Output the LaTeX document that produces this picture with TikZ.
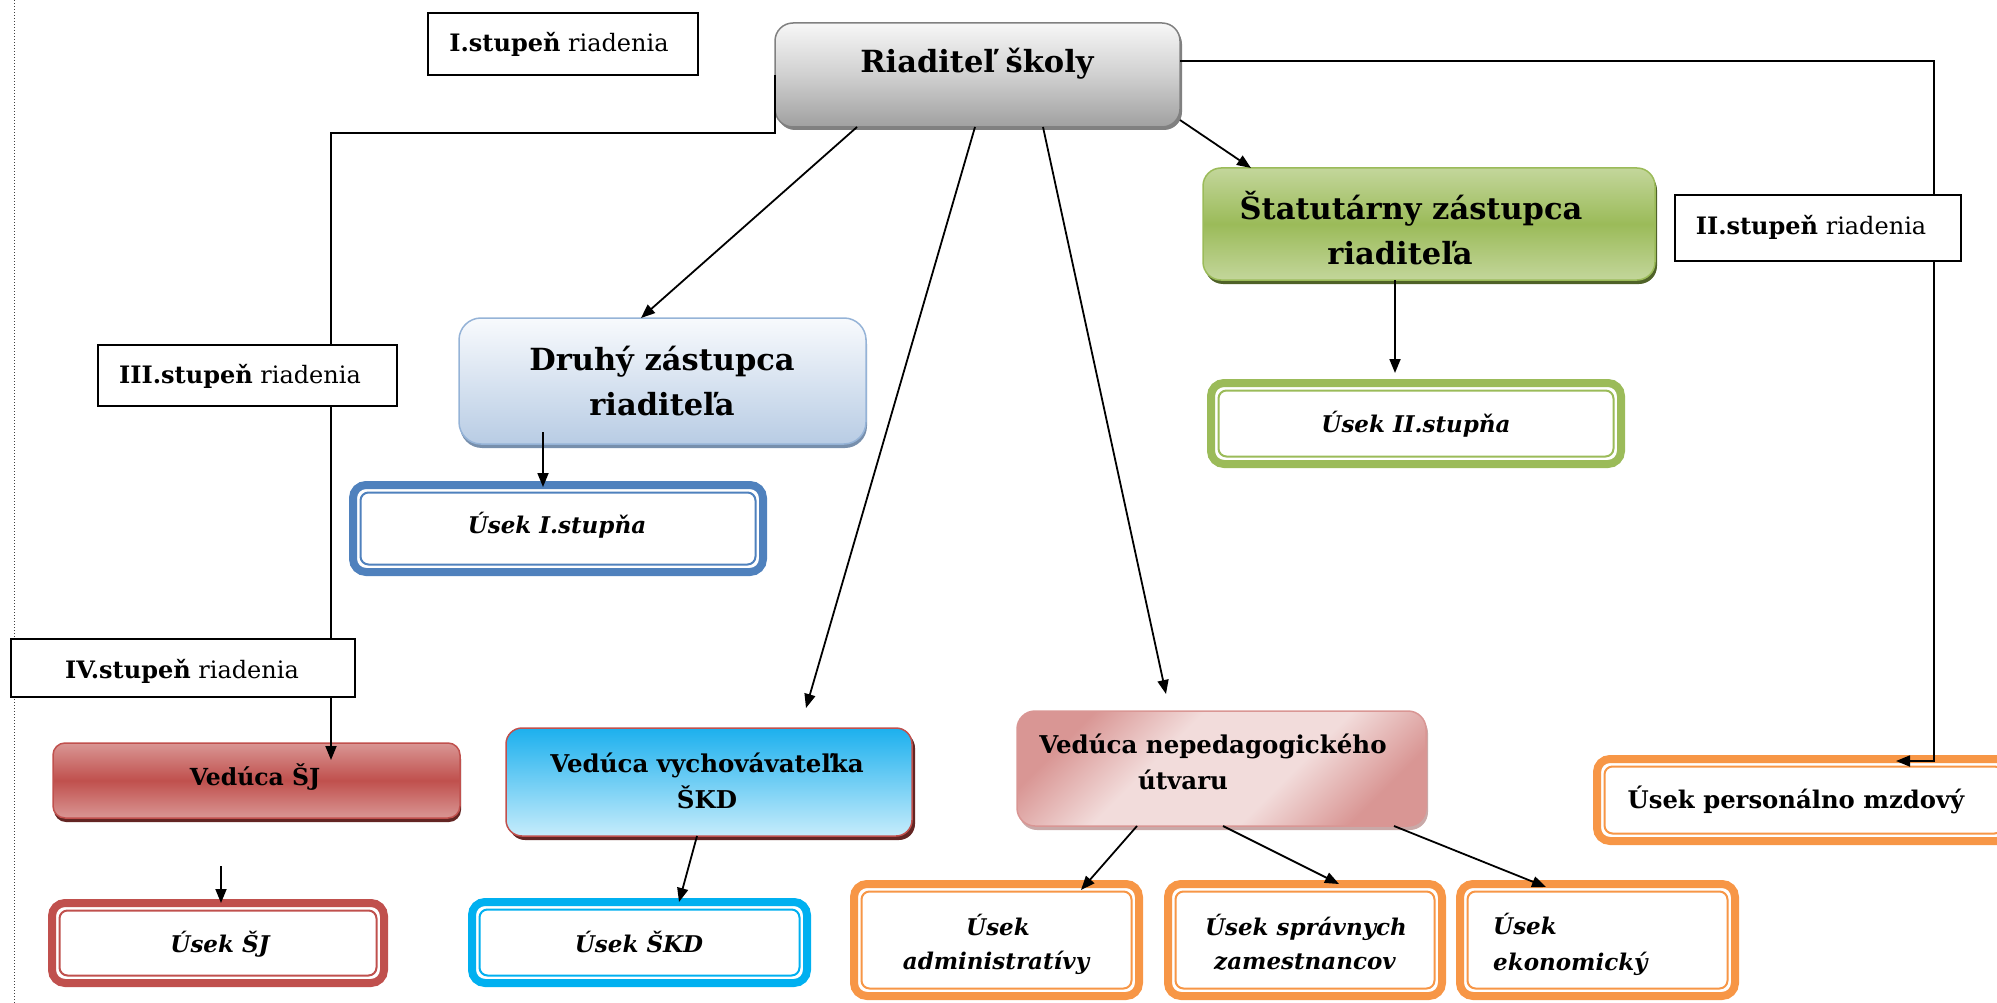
\documentclass[tikz,border=0pt]{standalone}
\usepackage{fontspec}
\setmainfont{DejaVu Serif}
\usetikzlibrary{arrows.meta,shadows}
\definecolor{uGreen}{HTML}{9BBB59}
\definecolor{uGreenL}{HTML}{C3D69B}
\definecolor{uGreenD}{HTML}{4F6228}
\definecolor{uBlue}{HTML}{4F81BD}
\definecolor{uBlueL}{HTML}{F8FAFD}
\definecolor{uBlueM}{HTML}{B8CCE4}
\definecolor{uBlueB}{HTML}{95B3D7}
\definecolor{uRed}{HTML}{C0504D}
\definecolor{uRedL}{HTML}{D99694}
\definecolor{uRedD}{HTML}{632523}
\definecolor{uCyan}{HTML}{00B0F0}
\definecolor{uCyanT}{HTML}{1CB0EE}
\definecolor{uCyanL}{HTML}{C6ECFB}
\definecolor{uOrange}{HTML}{F79646}
\definecolor{uPinkL}{HTML}{F2DCDB}
\definecolor{uPinkS}{HTML}{C9A9A8}
\definecolor{gTop}{HTML}{F7F7F7}
\definecolor{gMid}{HTML}{D0D0D0}
\definecolor{gBot}{HTML}{A0A0A0}
\definecolor{gBord}{HTML}{808080}
\pgfdeclareverticalshading{nepshade}{100bp}{color(0bp)=(uRedL); color(25bp)=(uRedL); color(40bp)=(uPinkL); color(60bp)=(uPinkL); color(75bp)=(uRedL); color(100bp)=(uRedL)}
\begin{document}
\begin{tikzpicture}[x=1pt,y=-1pt,
  conn/.style={line width=1.8pt,-{Triangle[length=14pt,width=11pt]}},
  lvl/.style={draw=black,line width=2pt,fill=white,inner sep=0pt,outer sep=0pt},
  usek/.style={draw=#1,line width=8pt,fill=white,rounded corners=13pt,inner sep=0pt,outer sep=0pt},
  head/.style={rounded corners=18pt,inner sep=0pt,outer sep=0pt,line width=1.5pt},
  bigt/.style={font=\fontsize{30.5}{36}\selectfont\bfseries,inner sep=0pt,anchor=base},
  midt/.style={font=\fontsize{24.5}{29}\selectfont\bfseries,inner sep=0pt,anchor=base},
  itt/.style={font=\fontsize{23}{28}\selectfont\bfseries\itshape,inner sep=0pt,anchor=base},
  labt/.style={font=\fontsize{24}{28}\selectfont,inner sep=0pt,anchor=base}]
\useasboundingbox (0,0) rectangle (1997,1003);

% left dotted margin line
\draw[dotted,line width=1pt,black!75] (14,0) -- (14,1003);

% head boxes
\node[head,draw=gBord,top color=gTop,bottom color=gBot,middle color=gMid,
  drop shadow={shadow xshift=2pt,shadow yshift=-3pt,fill=gBord,opacity=1},
  minimum width=405pt,minimum height=104pt] (root) at (977.5,75) {};
\node[head,draw=uGreen,top color=uGreenL,bottom color=uGreenL,middle color=uGreen,
  drop shadow={shadow xshift=2pt,shadow yshift=-4pt,fill=uGreenD,opacity=1},
  minimum width=452pt,minimum height=112pt] (stat) at (1429,224) {};
\node[head,rounded corners=22pt,draw=uBlueB,top color=uBlueL,bottom color=uBlueM,
  drop shadow={shadow xshift=1pt,shadow yshift=-4pt,fill=uBlueB!80!black,opacity=1},
  minimum width=407pt,minimum height=126pt] (druhy) at (662.5,381) {};
\node[head,rounded corners=12pt,draw=uRed,top color=uRedL,bottom color=uRedL,middle color=uRed,
  drop shadow={shadow xshift=1pt,shadow yshift=-4pt,fill=uRedD,opacity=1},
  minimum width=407pt,minimum height=75pt] (sj) at (256.5,780.5) {};
\node[head,rounded corners=16pt,draw=uRed,top color=uCyanT,bottom color=uCyanL,
  drop shadow={shadow xshift=3pt,shadow yshift=-4pt,fill=uRedD,opacity=1},
  minimum width=406pt,minimum height=108pt] (skd) at (709,782) {};
\node[head,draw=uRedL,shading=nepshade,shading angle=45,
  drop shadow={shadow xshift=2pt,shadow yshift=-4pt,fill=uPinkS,opacity=1},
  minimum width=409pt,minimum height=115pt] (nep) at (1221.5,768.5) {};

% usek boxes
\node[usek=uBlue,minimum width=410pt,minimum height=87pt] (usek1) at (558,528.5) {};
\node[usek=uGreen,minimum width=410pt,minimum height=81pt] (usek2) at (1416,423.5) {};
\node[usek=uRed,minimum width=332pt,minimum height=80pt] (usekSJ) at (218,943) {};
\node[usek=uCyan,minimum width=335pt,minimum height=81pt] (usekSKD) at (639.5,942.5) {};
\node[usek=uOrange,minimum width=285pt,minimum height=112pt] (adm) at (996.5,940) {};
\node[usek=uOrange,minimum width=274pt,minimum height=112pt] (sprav) at (1305,940) {};
\node[usek=uOrange,minimum width=275pt,minimum height=112pt] (ekon) at (1597.5,940) {};
\node[usek=uOrange,minimum width=413pt,minimum height=82pt] (pers) at (1803.5,800) {};
\foreach \n/\c in {usek1/uBlue,usek2/uGreen,usekSJ/uRed,usekSKD/uCyan,adm/uOrange,sprav/uOrange,ekon/uOrange,pers/uOrange}
  \draw[\c,line width=2pt,rounded corners=8pt]
    ([shift={(7.5pt,-7.5pt)}]\n.north west) rectangle ([shift={(-7.5pt,7.5pt)}]\n.south east);

% connectors
\coordinate (jL) at (331,133);
\coordinate (sjIn) at (331,760);
\coordinate (jR) at (1934,761);
\coordinate (sjOut) at (221,866);
\draw[conn] (root.west) |- (jL) -- (sjIn);
\draw[conn] ([yshift=14pt]root.east) -| (jR) -- ([xshift=299pt,yshift=-2pt]pers.north west);
\draw[conn] ([yshift=-45pt]root.east) -- ([xshift=48pt]stat.north west);
\draw[conn] ([xshift=-120.5pt]root.south) -- ([xshift=-21.5pt]druhy.north);
\draw[conn] ([xshift=-2.5pt]root.south) -- ([xshift=97pt,yshift=20pt]skd.north);
\draw[conn] ([xshift=65.5pt]root.south) -- ([xshift=-55.5pt,yshift=17pt]nep.north);
\draw[conn] ([xshift=-119.5pt,yshift=12pt]druhy.south) -- ([xshift=-15pt,yshift=-2pt]usek1.north);
\draw[conn] ([xshift=-34pt]stat.south) -- ([xshift=-21pt,yshift=10pt]usek2.north);
\draw[conn] ([xshift=-12pt]skd.south) -- ([xshift=39.5pt]usekSKD.north);
\draw[conn] ([xshift=-84.5pt]nep.south) -- ([xshift=84.5pt,yshift=-6pt]adm.north);
\draw[conn] ([xshift=1.5pt]nep.south) -- ([xshift=34pt]sprav.north);
\draw[conn] ([xshift=172.5pt]nep.south) -- ([xshift=-51.5pt,yshift=-3pt]ekon.north);
\draw[conn] (sjOut) -- ([xshift=3pt]usekSJ.north);

% level labels
\node[lvl,minimum width=270pt,minimum height=62pt] (lvl1) at (563,44) {};
\node[lvl,minimum width=286pt,minimum height=66pt] (lvl2) at (1818,228) {};
\node[lvl,minimum width=299pt,minimum height=61pt] (lvl3) at (247.5,375.5) {};
\node[lvl,minimum width=344pt,minimum height=58pt] (lvl4) at (183,668) {};
\node[labt] (lvl1T) at (559,52) {\textbf{I.stupeň} riadenia};
\node[labt] (lvl2T) at (1811,234) {\textbf{II.stupeň} riadenia};
\node[labt] (lvl3T) at (240,383) {\textbf{III.stupeň} riadenia};
\node[labt] (lvl4T) at (182,678) {\textbf{IV.stupeň} riadenia};

% texts
\node[bigt] (rootT) at (977,73) {Riaditeľ školy};
\node[bigt] (statT1) at (1411,220) {Štatutárny zástupca};
\node[bigt] (statT2) at (1400,265) {riaditeľa};
\node[bigt] (druhyT1) at (662,370) {Druhý zástupca};
\node[bigt] (druhyT2) at (662,415) {riaditeľa};
\node[itt] (u1T) at (557,533) {Úsek I.stupňa};
\node[itt] (u2T) at (1416,432) {Úsek II.stupňa};
\node[midt,font=\fontsize{23.5}{28}\selectfont\bfseries] (sjT) at (255,785) {Vedúca ŠJ};
\node[itt] (usjT) at (220,952) {Úsek ŠJ};
\node[midt] (skdT1) at (707,772) {Vedúca vychovávateľka};
\node[midt] (skdT2) at (707,808) {ŠKD};
\node[itt] (uskdT) at (639,952) {Úsek ŠKD};
\node[midt] (nepT1) at (1213,753) {Vedúca nepedagogického};
\node[midt] (nepT2) at (1183,789) {útvaru};
\node[itt] (admT1) at (998,935) {Úsek};
\node[itt] (admT2) at (996,969) {administratívy};
\node[itt] (spT1) at (1306,935) {Úsek správnych};
\node[itt] (spT2) at (1305,969) {zamestnancov};
\node[itt,anchor=base west] (ekT1) at (1493,934) {Úsek};
\node[itt,anchor=base west] (ekT2) at (1493,970) {ekonomický};
\node[midt,font=\fontsize{24.3}{29}\selectfont\bfseries] (persT) at (1796,808) {Úsek personálno mzdový};
\end{tikzpicture}
\end{document}
